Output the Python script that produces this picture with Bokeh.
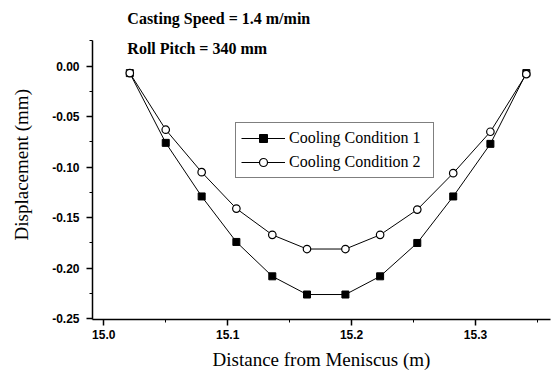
from bokeh.plotting import figure
from bokeh.models import (Range1d, FixedTicker, NumeralTickFormatter, Label, Legend, LegendItem)
from bokeh.embed import file_html
from bokeh.resources import INLINE

# ---- data ----
distance = [15.021, 15.050, 15.079, 15.107, 15.136, 15.164, 15.195, 15.223, 15.253, 15.282, 15.312, 15.341]
cond1 = [-0.007, -0.076, -0.129, -0.174, -0.208, -0.226, -0.226, -0.208, -0.175, -0.129, -0.077, -0.007]
cond2 = [-0.007, -0.063, -0.105, -0.141, -0.167, -0.181, -0.181, -0.167, -0.142, -0.106, -0.065, -0.008]
series_names = ["Cooling Condition 1", "Cooling Condition 2"]
x_ticks = [15.0, 15.1, 15.2, 15.3]
x_minor = [15.05, 15.15, 15.25, 15.35]
y_ticks = [-0.25, -0.20, -0.15, -0.10, -0.05, 0.00]
y_minor = [-0.225, -0.175, -0.125, -0.075, -0.025, 0.025]
note1 = "Casting Speed = 1.4 m/min"
note2 = "Roll Pitch = 340 mm"
x_title = "Distance from Meniscus (m)"
y_title = "Displacement (mm)"

SERIF = "Liberation Serif"
SANS = "Liberation Sans"

# frame spans the full top of the canvas; the y axis line is bounded below the notes
p = figure(width=556, height=372, output_backend="svg", toolbar_location=None,
           x_range=Range1d(14.9909, 15.3605), y_range=Range1d(-0.2507, 0.0648),
           min_border_left=92, min_border_right=6, min_border_top=0, min_border_bottom=53)
p.outline_line_color = None
p.background_fill_color = "white"
p.border_fill_color = "white"
p.xgrid.visible = False
p.ygrid.visible = False

p.xaxis.ticker = FixedTicker(ticks=x_ticks, minor_ticks=x_minor)
p.yaxis.ticker = FixedTicker(ticks=y_ticks, minor_ticks=y_minor)
p.xaxis.formatter = NumeralTickFormatter(format="0.0")
p.yaxis.formatter = NumeralTickFormatter(format="0.00")
p.yaxis.bounds = (-0.2507, 0.0252)

for ax in (p.xaxis, p.yaxis):
    ax.axis_line_width = 1.5
    ax.axis_line_color = "black"
    ax.major_tick_line_color = "black"
    ax.minor_tick_line_color = "black"
    ax.major_tick_line_width = 1.5
    ax.minor_tick_line_width = 1
    ax.major_tick_in = 0
    ax.major_tick_out = 6
    ax.minor_tick_in = 0
    ax.minor_tick_out = 3
    ax.major_label_text_font = SANS
    ax.major_label_text_font_style = "bold"
    ax.major_label_text_font_size = "12px"
    ax.major_label_text_color = "black"
    ax.axis_label_text_font = SERIF
    ax.axis_label_text_font_style = "normal"
    ax.axis_label_text_font_size = "19px"
    ax.axis_label_text_color = "black"

p.xaxis.axis_label = x_title
p.yaxis.axis_label = y_title + "\u00a0" * 2
p.xaxis.major_label_standoff = 4
p.yaxis.major_label_standoff = 7
p.xaxis.axis_label_standoff = 7
p.yaxis.axis_label_standoff = 17

l1 = p.line(distance, cond1, line_color="black", line_width=1)
s1 = p.scatter(distance, cond1, marker="square", size=7, fill_color="black", line_color="black")
l2 = p.line(distance, cond2, line_color="black", line_width=1)
s2 = p.scatter(distance, cond2, marker="circle", size=7.5, fill_color="white", line_color="black", line_width=1.2)

legend = Legend(items=[LegendItem(label=series_names[0], renderers=[l1, s1]),
                       LegendItem(label=series_names[1], renderers=[l2, s2])],
                location=(143, 141), margin=0, padding=5, spacing=4,
                glyph_width=44, glyph_height=20, label_height=20, label_width=139,
                label_standoff=4,
                label_text_font=SERIF, label_text_font_size="16px", label_text_color="black",
                border_line_color="black", border_line_width=1.2,
                background_fill_color="white", background_fill_alpha=1)
p.add_layout(legend, "center")

for txt, yv in ((note1, 0.0467), (note2, 0.0173)):
    p.add_layout(Label(x=15.0190, y=yv, text=txt, text_font=SERIF, text_font_style="bold",
                       text_font_size="16px", text_color="black", text_baseline="alphabetic"))

open("out.html", "w").write(file_html(p, INLINE))
